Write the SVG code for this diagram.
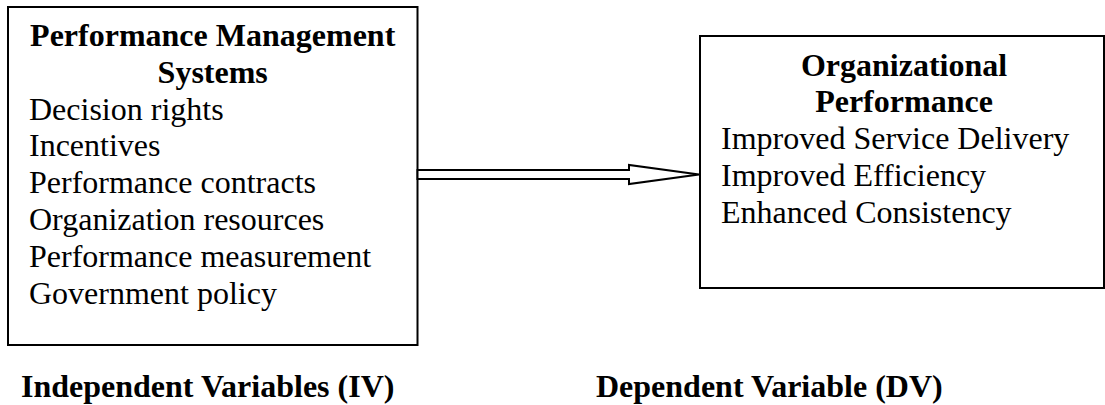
<svg xmlns="http://www.w3.org/2000/svg" width="1105" height="405" viewBox="0 0 1105 405">
<style>
.box{fill:#fff;stroke:#000;stroke-width:2}
text{font-family:"Liberation Serif","Times New Roman",serif;font-size:32px;fill:#000}
.b{font-weight:bold}
.c{text-anchor:middle}
</style>
<rect width="1105" height="405" fill="#fff"/>
<g id="iv-box">
<rect class="box" x="8" y="7" width="409.5" height="338"/>
<text class="b c" x="212.7" y="46">Performance Management</text>
<text class="b c" x="212.7" y="82.8">Systems</text>
<text x="29" y="119.6">Decision rights</text>
<text x="29" y="156.4">Incentives</text>
<text x="29" y="193.2">Performance contracts</text>
<text x="29" y="230">Organization resources</text>
<text x="29" y="266.8">Performance measurement</text>
<text x="29" y="303.6">Government policy</text>
</g>
<g id="dv-box">
<rect class="box" x="700" y="36" width="404" height="252"/>
<text class="b c" x="904" y="75.6">Organizational</text>
<text class="b c" x="904" y="112.4">Performance</text>
<text x="721" y="149.2">Improved Service Delivery</text>
<text x="721" y="186">Improved Efficiency</text>
<text x="721" y="222.8">Enhanced Consistency</text>
</g>
<g id="connectors">
<polygon points="417.5,170 629,170 629,165 699,174.5 629,184 629,179 417.5,179" fill="#fff" stroke="#000" stroke-width="2" stroke-linejoin="miter"/>
</g>
<g id="labels">
<text class="b" x="21" y="397">Independent Variables (IV)</text>
<text class="b" x="596" y="397">Dependent Variable (DV)</text>
</g>
</svg>
